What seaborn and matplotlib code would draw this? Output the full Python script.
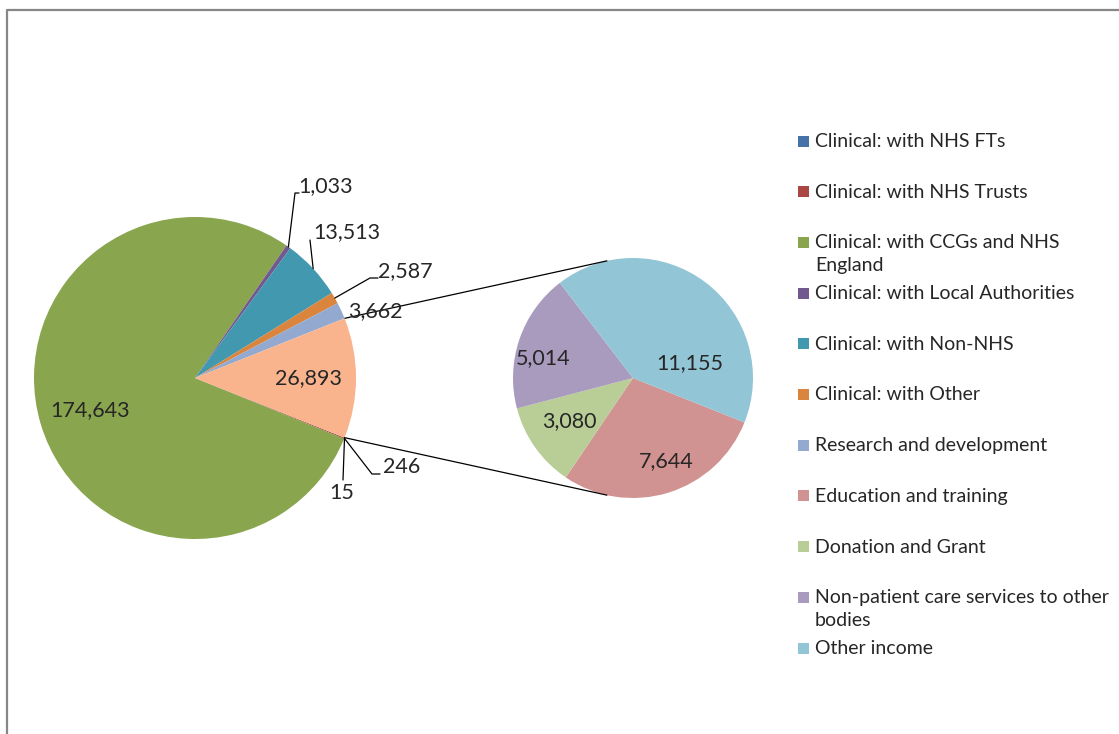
import numpy as np
import matplotlib
matplotlib.use("Agg")
import matplotlib.pyplot as plt
import seaborn as sns

# ---------------- data ----------------
main_categories = ["Clinical: with NHS FTs", "Clinical: with NHS Trusts",
                   "Clinical: with CCGs and NHS England", "Clinical: with Local Authorities",
                   "Clinical: with Non-NHS", "Clinical: with Other", "Research and development"]
main_values = [15, 246, 174643, 1033, 13513, 2587, 3662]
other_categories = ["Education and training", "Donation and Grant",
                    "Non-patient care services to other bodies", "Other income"]
other_values = [7644, 3080, 5014, 11155]
legend_labels = ["Clinical: with NHS FTs", "Clinical: with NHS Trusts",
                 "Clinical: with CCGs and NHS\nEngland", "Clinical: with Local Authorities",
                 "Clinical: with Non-NHS", "Clinical: with Other", "Research and development",
                 "Education and training", "Donation and Grant",
                 "Non-patient care services to other\nbodies", "Other income"]

# ---------------- style ----------------
sns.set_theme(style="white")
FONT = ["Lato", "DejaVu Sans"]
plt.rcParams['font.family'] = FONT
main_colors = ["#4572A7", "#AA4643", "#89A54E", "#71588F", "#4198AF", "#DB843D", "#93A9CF"]
composite_color = "#F9B48D"
other_colors = ["#D19392", "#B9CD96", "#A99BBD", "#92C5D6"]
palette = sns.color_palette(main_colors + other_colors)

W, H = 1119, 734
fig = plt.figure(figsize=(W / 100, H / 100), dpi=100)
ax = fig.add_axes([0, 0, 1, 1])


def P(x, y):
    """pixel (from top-left) -> data coords"""
    return x, H - y


# geometry (layout)
c1 = np.array(P(195, 378)); r1 = 161
c2 = np.array(P(633, 378)); r2 = 120

composite = sum(other_values)
all_main = main_values + [composite]
total = sum(all_main)
comp_angle = composite / total * 360.0
start = -comp_angle / 2.0

ax.pie(all_main, colors=list(palette[:7]) + [composite_color], startangle=start,
       counterclock=False, center=tuple(c1), radius=r1,
       wedgeprops=dict(linewidth=0))
ax.pie(other_values, colors=list(palette[7:]), startangle=start,
       counterclock=False, center=tuple(c2), radius=r2,
       wedgeprops=dict(linewidth=0))

# wedge mid angles of main pie
cum = start
mids = []
for v in all_main:
    span = v / total * 360.0
    mids.append(cum - span / 2.0)
    cum -= span


def edge(center, r, ang):
    a = np.deg2rad(ang)
    return center + r * np.array([np.cos(a), np.sin(a)])


# connector lines (tangents from composite edges to secondary pie)
for sgn in (1, -1):
    p = edge(c1, r1, sgn * comp_angle / 2.0)
    d = c2 - p
    dist = np.hypot(*d)
    base = np.degrees(np.arctan2(-d[1], -d[0]))
    beta = np.degrees(np.arccos(r2 / dist))
    t = edge(c2, r2, base - sgn * beta)
    ax.plot([p[0], t[0]], [p[1], t[1]], color="black", lw=0.9, solid_capstyle="butt")

LBL = 15.5
fmt = lambda v: f"{v:,}"

# inside labels
ax.text(*P(90, 410), fmt(main_values[2]), ha="center", va="center", fontsize=LBL)
ax.text(*P(308, 378), fmt(composite), ha="center", va="center", fontsize=LBL)
inner_pos = [(666, 461), (569, 421), (543, 358), (690, 363)]
for v, (x, y) in zip(other_values, inner_pos):
    ax.text(*P(x, y), fmt(v), ha="center", va="center", fontsize=LBL)

# outside labels with leader lines: (index, path points after anchor, text pos, ha)
outside = [
    (3, [(295, 193), (299, 193)], (298, 186), "left"),
    (4, [(310, 240)], (313, 232), "left"),
    (5, [(370, 278), (378, 278)], (378, 271), "left"),
    (6, [], (348, 311), "left"),
    (1, [(372, 474), (380, 474)], (383, 467), "left"),
    (0, [(343, 480)], (342, 493), "center"),
]
for idx, path, (tx, ty), ha in outside:
    a = edge(c1, r1, mids[idx])
    if path:
        xs = [a[0]] + [P(*q)[0] for q in path]
        ys = [a[1]] + [P(*q)[1] for q in path]
        ax.plot(xs, ys, color="black", lw=0.9)
    ax.text(*P(tx, ty), fmt(main_values[idx]), ha=ha, va="center", fontsize=LBL)

# legend (manual, Excel-like fixed spacing)
LEG = 14
row0, step = 141, 50.7
for i, (lab, col) in enumerate(zip(legend_labels, palette)):
    y = row0 + i * step
    ax.add_patch(plt.Rectangle(P(798, y + 5.5), 11, 11, facecolor=col, edgecolor="none"))
    ax.text(*P(815, y - 8), lab, ha="left", va="top", fontsize=LEG, linespacing=1.38)

# chart border (grey frame partly visible)
ax.plot([7, 7, W + 5], [-5, H - 10, H - 10], color="#878787", lw=1.6, clip_on=False)

ax.set_xlim(0, W)
ax.set_ylim(0, H)
ax.set_aspect("equal")
ax.axis("off")
fig.savefig("out.png", dpi=100, facecolor="white")
